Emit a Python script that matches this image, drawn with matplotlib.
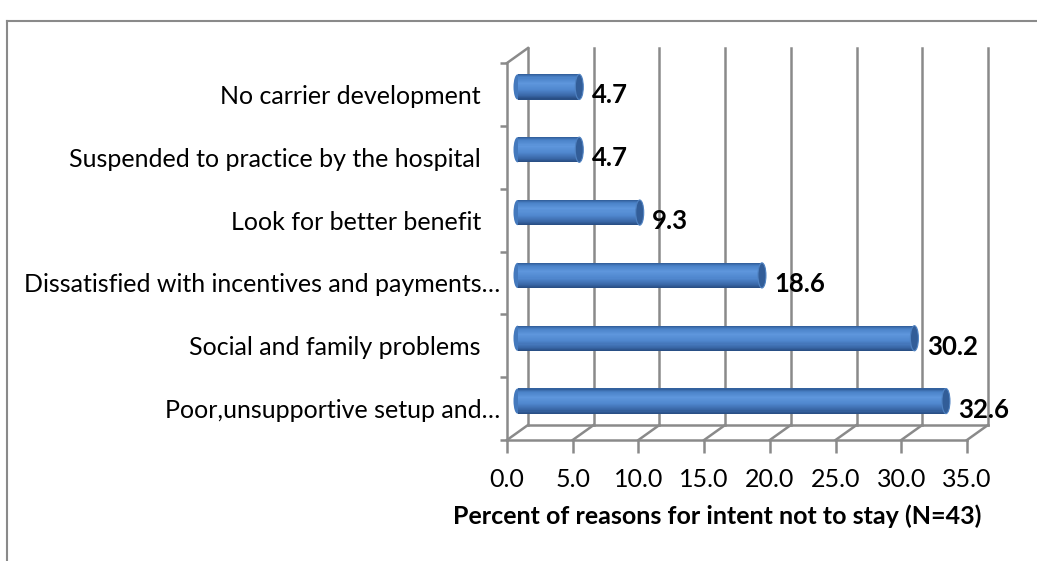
import matplotlib
matplotlib.use("Agg")
import matplotlib.pyplot as plt
import matplotlib.transforms as mtransforms
from matplotlib.patches import Ellipse
from matplotlib.lines import Line2D
import numpy as np
from matplotlib.colors import LinearSegmentedColormap

# ---- data ----
categories = [
    "Poor,unsupportive setup and\u2026",
    "Social and family problems   ",
    "Dissatisfied with incentives and payments\u2026",
    "Look for better benefit   ",
    "Suspended to practice by the hospital   ",
    "No carrier development   ",
]
values = [32.6, 30.2, 18.6, 9.3, 4.7, 4.7]
xticks = [0, 5, 10, 15, 20, 25, 30, 35]
xlabel = "Percent of reasons for intent not to stay (N=43)"

plt.rcParams['font.family'] = ['Lato', 'DejaVu Sans']

W, H = 1037, 561
fig = plt.figure(figsize=(W / 100, H / 100), dpi=100)

# front plane in pixel coords: x 507..967, y 440 (bottom)..63 (top)
x0, x1, ybot, ytop = 507, 967, 440, 63
ax = fig.add_axes([x0 / W, (H - ybot) / H, (x1 - x0) / W, (ybot - ytop) / H])
ax.set_xlim(0, 35)
ax.set_ylim(-0.5, len(categories) - 0.5)
for s in ax.spines.values():
    s.set_visible(False)
ax.patch.set_visible(False)

gray = '#8a8a8a'
depth_dx, depth_dy = 21, 15
back = ax.transData + mtransforms.ScaledTranslation(depth_dx / 100, depth_dy / 100, fig.dpi_scale_trans)
mid = ax.transData + mtransforms.ScaledTranslation(depth_dx / 200, depth_dy / 200, fig.dpi_scale_trans)

ylo, yhi = -0.5, len(categories) - 0.5
lw = 1.8
# back wall gridlines
for t in xticks:
    ax.add_line(Line2D([t, t], [ylo, yhi], color=gray, lw=lw, transform=back, clip_on=False, zorder=1))
# floor back edge
ax.add_line(Line2D([0, 35], [ylo, ylo], color=gray, lw=lw, transform=back, clip_on=False, zorder=1))
# floor front edge and left wall front edge
ax.add_line(Line2D([0, 35], [ylo, ylo], color=gray, lw=lw, transform=ax.transData, clip_on=False, zorder=1))
ax.add_line(Line2D([0, 0], [ylo, yhi], color=gray, lw=lw, transform=ax.transData, clip_on=False, zorder=1))
# diagonals (floor depth lines and top-left corner)
dx_data = depth_dx / ((x1 - x0) / 35)
dy_data = depth_dy / ((ybot - ytop) / len(categories))
for t in xticks:
    ax.add_line(Line2D([t, t + dx_data], [ylo, ylo + dy_data], color=gray, lw=lw, clip_on=False, zorder=1))
ax.add_line(Line2D([0, dx_data], [yhi, yhi + dy_data], color=gray, lw=lw, clip_on=False, zorder=1))

# ticks
fs = 18
ax.set_xticks(xticks)
ax.set_xticklabels([f"{t:.1f}" for t in xticks], fontsize=fs)
ax.set_yticks(np.arange(len(categories) + 1) - 0.5, minor=True)
ax.set_yticks(np.arange(len(categories)))
ax.set_yticklabels(categories, fontsize=fs)
ax.tick_params(axis='y', which='major', length=0, pad=5)
ax.tick_params(axis='y', which='minor', length=5, width=lw, color=gray, direction='out')
ax.tick_params(axis='x', length=9, width=lw, color=gray, pad=11)
ax.set_xlabel(xlabel, fontsize=fs, fontweight='bold', labelpad=10)
ax.xaxis.label.set_x((717 - x0) / (x1 - x0))

# cylinder bars
cmap = LinearSegmentedColormap.from_list('cyl', [
    (0.0, '#2f5b96'), (0.12, '#4a82c8'), (0.35, '#5e96dc'),
    (0.6, '#5088cf'), (0.85, '#3a68a8'), (1.0, '#264b80')])
bh = 0.4
nstr = 24
cap_w = 8 / ((x1 - x0) / 35)
lab_t = ax.transData + mtransforms.ScaledTranslation(23 / 100, -1 / 100, fig.dpi_scale_trans)
for i, v in enumerate(values):
    # left rounded end
    e0 = Ellipse((0, i), cap_w, bh, facecolor='#4479bd', edgecolor='none', transform=mid, zorder=3)
    ax.add_patch(e0)
    for k in range(nstr):
        frac = (k + 0.5) / nstr
        yc = i + bh / 2 - (k + 0.5) * bh / nstr
        b = ax.barh([yc], [v], height=bh / nstr * 1.05, left=0, color=cmap(frac), edgecolor='none', zorder=4)
        for p in b.patches:
            p.set_transform(mid)
    e1 = Ellipse((v, i), cap_w, bh, facecolor='#325d98', edgecolor='#4f82c2', lw=0.8, transform=mid, zorder=5)
    ax.add_patch(e1)
    ax.text(v, i, f"{v:.1f}", transform=lab_t, ha='left', va='center', fontsize=18.5,
            fontweight='bold', color='black', zorder=6)

# outer chart border (cropped)
fig.add_artist(Line2D([7 / W, 1.0], [1 - 21 / H, 1 - 21 / H], color=gray, lw=1.5, transform=fig.transFigure))
fig.add_artist(Line2D([7 / W, 7 / W], [0, 1 - 21 / H], color=gray, lw=1.5, transform=fig.transFigure))

fig.savefig("out.png", dpi=100)
